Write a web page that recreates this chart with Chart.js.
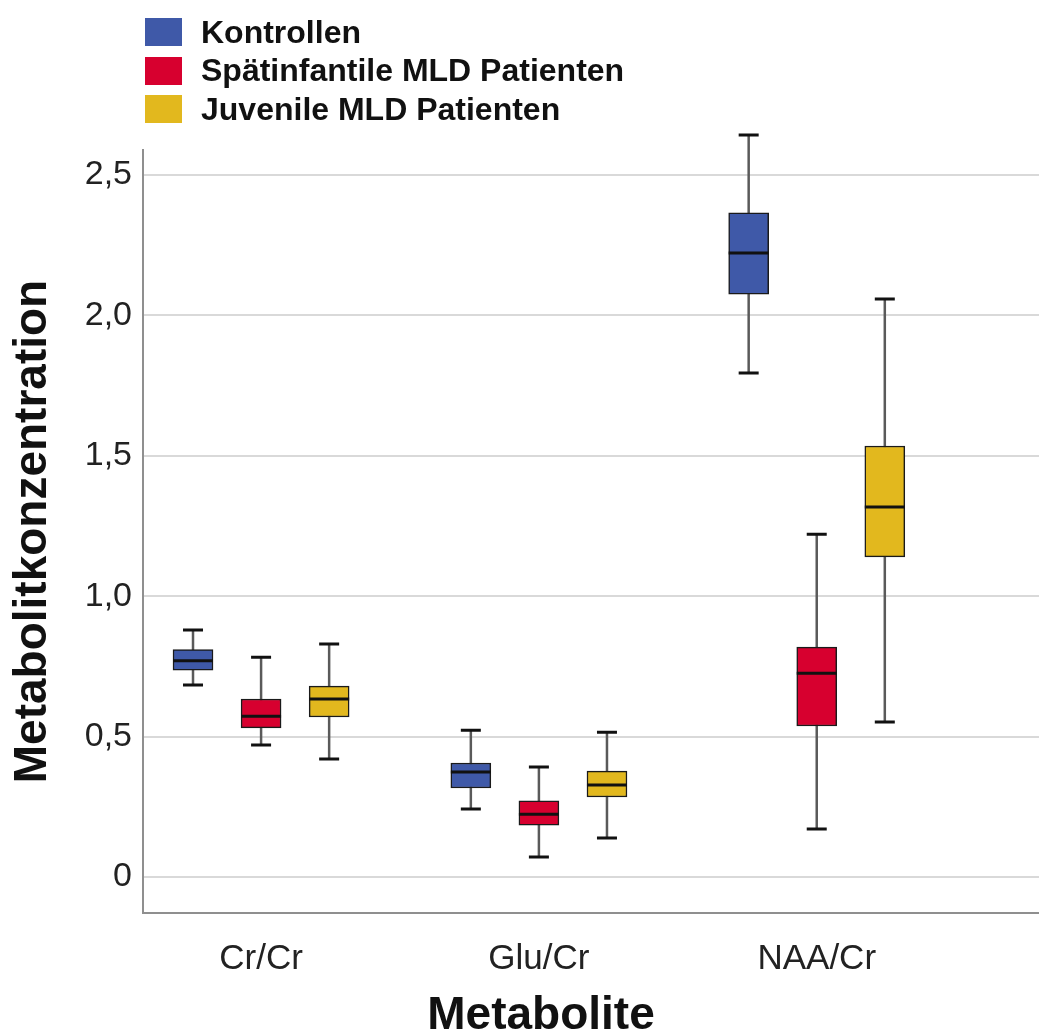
<!DOCTYPE html>
<html>
<head>
<meta charset="utf-8">
<script src="https://cdn.jsdelivr.net/npm/chart.js@4/dist/chart.umd.min.js"></script>
<style>
  html, body { margin: 0; padding: 0; background: #fff; }
  #wrap { position: relative; width: 1039px; height: 1034px; }
  #legend { position: absolute; left: 145px; top: 13px; font: bold 32px "Liberation Sans", Arial, sans-serif; color: #111; }
  .row { display: flex; align-items: center; height: 38.5px; }
  .sw { width: 37px; height: 28px; margin-right: 19px; }
  #xtitle { position: absolute; left: 341px; width: 400px; top: 990px; text-align: center; font: bold 46px "Liberation Sans", Arial, sans-serif; line-height: 46px; color: #111; }
</style>
</head>
<body>
<div id="wrap">
  <canvas id="chart"></canvas>
  <div id="legend"></div>
  <div id="xtitle">Metabolite</div>
</div>
<script>
const categories = ['Cr/Cr', 'Glu/Cr', 'NAA/Cr'];
const groups = ['Kontrollen', 'Spätinfantile MLD Patienten', 'Juvenile MLD Patienten'];
const colors = ['#3f59a8', '#d7002f', '#e2b81e'];
const yTicks = [0, 0.5, 1.0, 1.5, 2.0, 2.5];

// five-number summary per metabolite: [whisker low, Q1, median, Q3, whisker high]
const kontrollen = [
  [0.684, 0.737, 0.770, 0.810, 0.880],
  [0.242, 0.317, 0.374, 0.406, 0.523],
  [1.795, 2.076, 2.222, 2.365, 2.642]
];
const spaetinfantil = [
  [0.470, 0.531, 0.573, 0.634, 0.783],
  [0.071, 0.185, 0.224, 0.271, 0.392],
  [0.171, 0.538, 0.726, 0.819, 1.221]
];
const juvenil = [
  [0.420, 0.570, 0.634, 0.680, 0.830],
  [0.139, 0.285, 0.328, 0.377, 0.516],
  [0.552, 1.140, 1.318, 1.535, 2.058]
];
const allStats = [kontrollen, spaetinfantil, juvenil];
const dodge = [-0.245, 0, 0.245];

const comma = v => v === 0 ? '0' : v.toFixed(1).replace('.', ',');

// whiskers behind the boxes, medians on top
const boxWhiskers = {
  id: 'boxWhiskers',
  beforeDatasetsDraw(chart) {
    const { ctx } = chart;
    const y = chart.scales.y;
    ctx.save();
    chart.data.datasets.forEach((ds, di) => {
      chart.getDatasetMeta(di).data.forEach((bar, i) => {
        const s = allStats[di][i];
        const lo = y.getPixelForValue(s[0]), hi = y.getPixelForValue(s[4]);
        ctx.strokeStyle = '#5a5a5a';
        ctx.lineWidth = 2.5;
        ctx.beginPath(); ctx.moveTo(bar.x, lo); ctx.lineTo(bar.x, hi); ctx.stroke();
        ctx.strokeStyle = '#111';
        ctx.lineWidth = 3;
        ctx.beginPath();
        ctx.moveTo(bar.x - 10, lo); ctx.lineTo(bar.x + 10, lo);
        ctx.moveTo(bar.x - 10, hi); ctx.lineTo(bar.x + 10, hi);
        ctx.stroke();
      });
    });
    ctx.restore();
  },
  afterDatasetsDraw(chart) {
    const { ctx } = chart;
    const y = chart.scales.y;
    ctx.save();
    ctx.strokeStyle = '#111';
    ctx.lineWidth = 3;
    chart.data.datasets.forEach((ds, di) => {
      chart.getDatasetMeta(di).data.forEach((bar, i) => {
        const m = y.getPixelForValue(allStats[di][i][2]);
        ctx.beginPath(); ctx.moveTo(bar.x - bar.width / 2, m); ctx.lineTo(bar.x + bar.width / 2, m); ctx.stroke();
      });
    });
    ctx.restore();
  }
};

document.getElementById('legend').innerHTML = groups.map((g, i) =>
  `<div class="row"><div class="sw" style="background:${colors[i]}"></div>${g}</div>`).join('');

new Chart(document.getElementById('chart'), {
  type: 'bar',
  data: {
    datasets: groups.map((g, gi) => ({
      label: g,
      data: allStats[gi].map((s, i) => ({ x: i + 1 + dodge[gi], y: [s[1], s[3]] })),
      backgroundColor: colors[gi],
      borderColor: '#1a1a1a',
      borderWidth: 1.5,
      borderSkipped: false,
      barThickness: 40,
      grouped: false
    }))
  },
  options: {
    responsive: true,
    maintainAspectRatio: false,
    animation: false,
    layout: { padding: { top: 150, left: 0, right: 0, bottom: 0 } },
    plugins: { legend: { display: false }, tooltip: { enabled: false } },
    scales: {
      x: {
        type: 'linear',
        offset: false,
        min: 0.575, max: 3.8,
        afterFit: s => { s.height = 121; },
        afterBuildTicks: s => { s.ticks = categories.map((c, i) => ({ value: i + 1 })); },
        grid: { display: false, drawTicks: false, offset: false },
        border: { display: true, color: '#8f8f8f', width: 2 },
        ticks: {
          padding: 25,
          color: '#222',
          font: { family: '"Liberation Sans", Arial, sans-serif', size: 35 },
          callback: v => categories[v - 1]
        }
      },
      y: {
        min: -0.128, max: 2.589,
        afterFit: s => { s.width = 143; },
        afterBuildTicks: s => { s.ticks = yTicks.map(v => ({ value: v })); },
        grid: { color: '#d9d9d9', lineWidth: 2, drawTicks: false },
        border: { display: true, color: '#8f8f8f', width: 2 },
        ticks: {
          padding: 11,
          color: '#222',
          font: { family: '"Liberation Sans", Arial, sans-serif', size: 34 },
          callback: v => comma(v)
        },
        title: {
          display: true,
          text: 'Metabolitkonzentration',
          color: '#111',
          padding: { top: 10, bottom: 0 },
          font: { family: '"Liberation Sans", Arial, sans-serif', size: 46, weight: 'bold', lineHeight: 1 }
        }
      }
    }
  },
  plugins: [boxWhiskers]
});
</script>
</body>
</html>
